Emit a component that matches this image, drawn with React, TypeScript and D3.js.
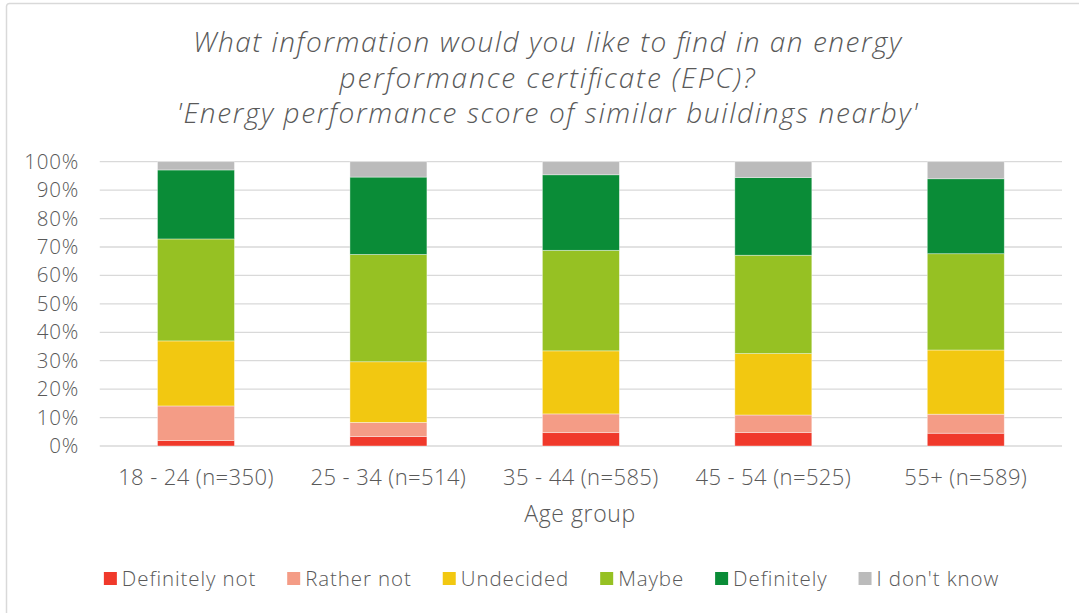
import { useMemo } from 'react'
import * as d3 from 'd3'

const categories = ['18 - 24 (n=350)', '25 - 34 (n=514)', '35 - 44 (n=585)', '45 - 54 (n=525)', '55+ (n=589)']
const seriesNames = ['Definitely not', 'Rather not', 'Undecided', 'Maybe', 'Definitely', "I don't know"]
const definitelyNot = [1.9, 3.3, 4.7, 4.7, 4.5]
const ratherNot = [12.2, 5.0, 6.6, 6.2, 6.7]
const undecided = [22.9, 21.3, 22.2, 21.6, 22.6]
const maybe = [35.9, 37.7, 35.4, 34.6, 33.9]
const definitely = [24.3, 27.2, 26.6, 27.3, 26.4]
const dontKnow = [2.9, 5.4, 4.6, 5.6, 6.0]
const colors = ['#f0392b', '#f49c86', '#f2c811', '#96c123', '#0a8c37', '#bbbbbb']
const yTicks = [0, 0.1, 0.2, 0.3, 0.4, 0.5, 0.6, 0.7, 0.8, 0.9, 1]
const titleLines = [
  'What information would you like to find in an energy',
  'performance certificate (EPC)?',
  "'Energy performance score of similar buildings nearby'",
]
// widths of the title lines
const titleWidths = [708, 415, 741]

const W = 1079
const H = 613
const FONT = '"Open Sans", "Noto Sans", sans-serif'
const TEXT = '#595959'
const GRID = '#d9d9d9'

function measure(text: string, size: number, ls: number) {
  const c = document.createElement('canvas').getContext('2d')
  if (!c) return text.length * size * 0.55
  c.font = `300 ${size}px "Open Sans"`
  return c.measureText(text).width + ls * text.length
}

export default function App() {
  const margin = { top: 161.7, right: 17, bottom: 167, left: 99.75 }
  const x = d3.scaleBand().domain(categories).range([margin.left, W - margin.right]).paddingInner(0.6).paddingOuter(0.3)
  const y = d3.scaleLinear().domain([0, 1]).range([446, 161.7])

  const series = useMemo(() => {
    const all = [definitelyNot, ratherNot, undecided, maybe, definitely, dontKnow]
    const rows = categories.map((c, i) => {
      const r: Record<string, any> = { cat: c }
      seriesNames.forEach((s, j) => (r[s] = all[j][i]))
      return r
    })
    return d3.stack().keys(seriesNames).offset(d3.stackOffsetExpand)(rows as any)
  }, [])

  // legend layout, centred
  const legendSize = 20.5
  const legendLs = 0.9
  const legend = useMemo(() => {
    const sq = 13, gap = 5, spacing = 31
    const widths = seriesNames.map((s) => sq + gap + measure(s, legendSize, legendLs))
    const total = d3.sum(widths) + spacing * (widths.length - 1)
    let cx = (105 + 998) / 2 - total / 2
    return seriesNames.map((s, i) => {
      const item = { name: s, x: cx, color: colors[i] }
      cx += widths[i] + spacing
      return item
    })
  }, [])

  return (
    <svg width={W} height={H} style={{ position: 'absolute', left: 0, top: 0, fontFamily: FONT }}>
      <rect x={0} y={0} width={W} height={H} fill="#fff" />
      <rect x={6.5} y={3.5} width={W + 20} height={H + 20} rx={3} fill="#fff" stroke={GRID} strokeWidth={1.5} />

      {titleLines.map((t, i) => (
        <text
          key={i}
          x={547}
          y={52 + i * 35.5}
          textAnchor="middle"
          fontSize={28}
          fontStyle="italic"
          fontWeight={300}
          fill={TEXT}
          textLength={titleWidths[i]}
          lengthAdjust="spacing"
        >
          {t}
        </text>
      ))}

      {yTicks.map((t) => (
        <g key={t}>
          <line x1={margin.left} x2={W - margin.right} y1={y(t)} y2={y(t)} stroke={GRID} strokeWidth={1.3} />
          <text x={79} y={y(t) + 7} textAnchor="end" fontSize={20.5} fontWeight={300} letterSpacing={0.8} fill={TEXT}>
            {d3.format('.0%')(t)}
          </text>
        </g>
      ))}

      {series.map((s, i) => (
        <g key={s.key} fill={colors[i]}>
          {s.map((d, j) => (
            <rect
              key={j}
              x={x(categories[j])}
              y={y(d[1])}
              width={x.bandwidth()}
              height={y(d[0]) - y(d[1])}
              stroke="#fff"
              strokeOpacity={0.5}
              strokeWidth={0.75}
            />
          ))}
        </g>
      ))}

      {categories.map((c) => (
        <text
          key={c}
          x={(x(c) || 0) + x.bandwidth() / 2}
          y={485}
          textAnchor="middle"
          fontSize={22}
          fontWeight={300}
          letterSpacing={0.4}
          fill={TEXT}
        >
          {c}
        </text>
      ))}
      <text x={580} y={522} textAnchor="middle" fontSize={23} fontWeight={300} letterSpacing={0.6} fill={TEXT}>
        Age group
      </text>

      {legend.map((l) => (
        <g key={l.name}>
          <rect x={l.x} y={572} width={13} height={13} fill={l.color} />
          <text x={l.x + 18} y={586} fontSize={legendSize} fontWeight={300} letterSpacing={legendLs} fill={TEXT}>
            {l.name}
          </text>
        </g>
      ))}
    </svg>
  )
}
